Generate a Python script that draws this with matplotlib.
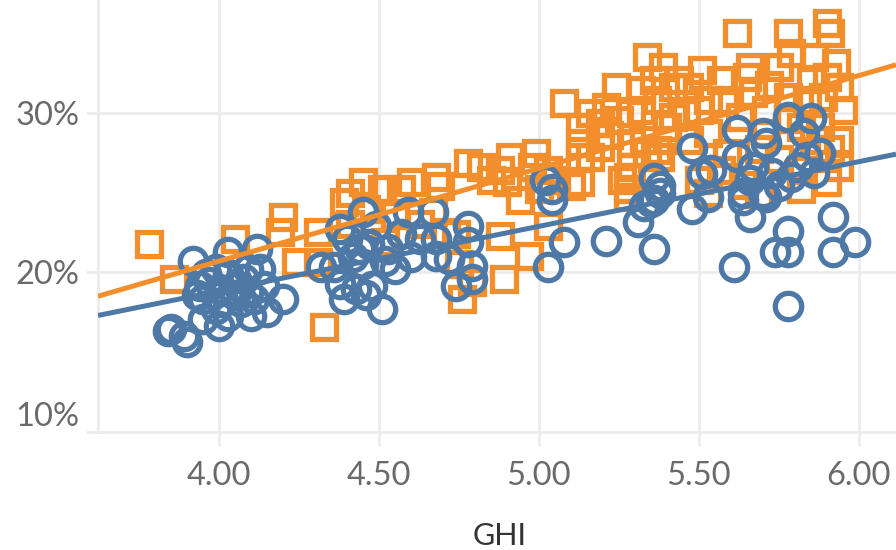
import matplotlib
matplotlib.use("Agg")
import matplotlib.pyplot as plt
from matplotlib import font_manager
import numpy as np

# GHI vs. performance ratio (%) for the two groups
ghi_orange = [3.78, 3.86, 4.05, 4.19, 4.20, 4.24, 4.31, 4.33, 4.31, 4.41, 4.45, 4.39,
              4.51, 4.57, 4.60, 4.68, 4.69, 4.78, 4.82, 4.85, 4.88, 4.76, 4.88, 4.89,
              4.79, 4.90, 4.67, 4.71, 4.46, 4.55, 4.63, 4.52, 4.41, 4.74, 4.75, 4.91,
              4.99, 4.98, 5.04, 5.10, 5.13, 5.08, 5.16, 5.13, 5.19, 5.21, 5.19, 5.24,
              5.29, 5.29, 5.26, 5.28, 5.33, 5.34, 5.37, 5.40, 5.44, 5.47, 5.46, 5.37,
              5.25, 5.36, 5.42, 5.32, 5.51, 5.53, 5.58, 5.67, 5.66, 5.62, 5.78, 5.90,
              5.91, 5.75, 5.79, 5.86, 5.90, 5.93, 5.94, 5.89, 5.78, 5.84, 5.95, 5.94,
              5.94, 5.90, 5.53, 5.71, 5.29, 5.34, 5.38, 5.28, 5.28, 5.50, 5.53, 5.16,
              5.13, 5.13, 5.42, 5.40, 5.59, 5.63, 5.82, 5.88, 5.71, 5.65, 5.57, 5.39,
              5.47, 5.69, 5.75, 5.64, 5.57, 5.82, 5.86, 5.78, 5.82, 5.69, 5.91, 5.85,
              5.72, 5.50, 5.32, 5.22, 5.03, 4.94, 5.00, 5.03, 4.97]
pct_orange = [21.75, 19.56, 22.06, 22.5, 23.44, 20.63, 20.63, 16.6, 22.5, 25.0, 25.69, 24.38,
              25.19, 25.19, 25.69, 26.0, 25.38, 26.88, 26.63, 25.81, 26.44, 18.31, 22.25, 19.56,
              19.38, 25.63, 23.75, 22.5, 23.94, 23.6, 23.0, 21.9, 23.0, 22.4, 20.5, 27.25,
              27.5, 26.63, 25.81, 25.38, 27.25, 30.63, 30.0, 29.13, 27.88, 30.38, 29.38, 31.63,
              30.0, 26.63, 25.81, 24.75, 28.31, 33.5, 30.81, 29.13, 32.06, 31.63, 30.0, 27.69,
              29.56, 32.06, 31.63, 30.19, 32.69, 30.81, 30.81, 31.25, 32.88, 35.0, 35.0, 35.63,
              35.0, 32.88, 33.75, 33.5, 32.25, 33.13, 31.63, 31.0, 31.0, 30.81, 30.19, 28.31,
              26.63, 25.63, 28.75, 28.75, 28.13, 27.5, 27.25, 26.0, 25.19, 25.81, 25.0, 27.25,
              28.13, 25.63, 29.75, 28.31, 27.5, 29.75, 29.13, 29.13, 30.19, 32.25, 32.06, 32.88,
              28.3, 27.7, 27.1, 25.5, 26.44, 26.44, 28.3, 29.6, 25.19, 24.9, 27.7, 32.1,
              31.75, 30.2, 31.44, 28.6, 26.44, 24.56, 25.2, 22.9, 21.0]

ghi_blue = [3.84, 3.85, 3.89, 3.90, 3.92, 3.95, 4.00, 4.03, 4.10, 4.15, 4.20, 4.14,
            3.94, 3.97, 4.00, 4.06, 4.09, 3.95, 4.01, 4.07, 3.99, 4.09, 4.13, 4.03,
            4.12, 4.32, 3.99, 4.03, 3.96, 4.08, 3.93, 4.05, 4.11, 4.36, 4.38, 4.38,
            4.40, 4.42, 4.43, 4.45, 4.45, 4.49, 4.48, 4.51, 4.52, 4.53, 4.59, 4.60,
            4.63, 4.67, 4.68, 4.68, 4.72, 4.78, 4.78, 4.79, 4.74, 4.79, 4.44, 4.55,
            4.47, 4.39, 4.46, 4.57, 5.04, 5.02, 5.04, 5.03, 5.08, 5.21, 5.31, 5.33,
            5.36, 5.38, 5.36, 5.35, 5.36, 5.38, 5.48, 5.51, 5.48, 5.53, 5.61, 5.62,
            5.66, 5.66, 5.70, 5.71, 5.78, 5.85, 5.83, 5.84, 5.88, 5.78, 5.78, 5.74,
            5.92, 5.92, 5.99, 5.78, 5.75, 5.79, 5.73, 5.64, 5.71, 5.67, 5.62, 5.54,
            5.81, 5.86, 5.64, 5.70]
pct_blue = [16.31, 16.44, 16.0, 15.63, 20.69, 17.06, 16.63, 17.25, 17.25, 17.5, 18.31, 19.13,
            19.13, 19.38, 18.94, 19.13, 18.75, 18.31, 18.13, 18.13, 20.19, 20.19, 20.19, 21.25,
            21.44, 20.31, 17.7, 19.9, 19.9, 19.56, 18.6, 18.56, 18.3, 20.31, 19.25, 22.69,
            22.06, 20.94, 18.94, 23.75, 20.5, 22.88, 19.13, 17.69, 20.69, 21.44, 23.75, 20.94,
            22.06, 23.75, 22.06, 21.0, 20.81, 22.88, 21.88, 20.38, 19.13, 19.56, 21.44, 20.19,
            21.75, 18.3, 18.6, 22.4, 24.56, 25.81, 25.19, 20.31, 21.88, 21.94, 23.13, 24.13,
            24.56, 25.0, 21.44, 24.38, 25.94, 25.38, 27.81, 26.13, 23.94, 24.69, 20.31, 28.94,
            25.81, 23.44, 28.75, 28.13, 29.75, 29.69, 28.75, 27.25, 27.5, 22.56, 21.25, 21.25,
            23.44, 21.25, 21.88, 17.88, 25.38, 26.0, 26.25, 24.56, 24.75, 26.63, 27.25, 26.44,
            26.63, 26.25, 25.0, 25.0]

# linear trend lines: (slope, intercept) in % per GHI unit
trend_orange = (5.81, -2.54)
trend_blue = (4.05, 2.63)

x_ticks = [4.0, 4.5, 5.0, 5.5, 6.0]
y_ticks = [10, 20, 30]

ORANGE = "#F28E2B"
BLUE = "#4E79A7"
GRID = "#ececec"
TICK_TEXT = "#6a6a6a"

installed = {f.name for f in font_manager.fontManager.ttflist}
family = "Lato" if "Lato" in installed else "DejaVu Sans"
plt.rcParams["font.family"] = [family, "DejaVu Sans"]

fig = plt.figure(figsize=(8.96, 5.5), dpi=100)
ax = fig.add_axes([98 / 896, 1 - 432 / 550, 1 - 98 / 896, 432 / 550])
ax.set_xlim(3.622, 6.117)
ax.set_ylim(10, 37.06)

ax.plot(ghi_orange, pct_orange, "s", ms=17.5, mfc="none", mec=ORANGE, mew=3.8, zorder=3)
ax.plot(ghi_blue, pct_blue, "o", ms=19, mfc="none", mec=BLUE, mew=3.8, zorder=4)

xs = np.array(ax.get_xlim())
ax.plot(xs, trend_orange[0] * xs + trend_orange[1], color=ORANGE, lw=3.6, zorder=5,
        solid_capstyle="butt")
ax.plot(xs, trend_blue[0] * xs + trend_blue[1], color=BLUE, lw=3.6, zorder=5,
        solid_capstyle="butt")

ax.set_xticks(x_ticks)
ax.set_xticklabels([f"{v:.2f}" for v in x_ticks])
ax.set_yticks(y_ticks)
ax.set_yticklabels([f"{v}%" for v in y_ticks])

ax.grid(color=GRID, lw=2, zorder=0)
ax.set_axisbelow(True)
for side in ["top", "right"]:
    ax.spines[side].set_visible(False)
for side in ["left", "bottom"]:
    ax.spines[side].set_color(GRID)
    ax.spines[side].set_linewidth(2)

ax.tick_params(axis="x", length=10, width=2, color=GRID, pad=11,
               labelsize=23.5, labelcolor=TICK_TEXT)
ax.tick_params(axis="y", length=8.5, width=2, color=GRID, pad=5,
               labelsize=23.5, labelcolor=TICK_TEXT)
ax.get_yticklabels()[0].set_va("bottom")

fig.text(500 / 896, 1 - 536 / 550, "GHI", ha="center", va="center",
         fontsize=22, color="#333333")

fig.savefig("out.png", dpi=100)
